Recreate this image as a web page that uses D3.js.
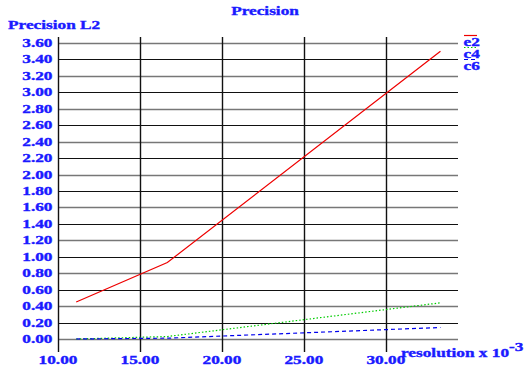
<!DOCTYPE html>
<html>
<head>
<meta charset="utf-8">
<script src="https://cdn.jsdelivr.net/npm/d3@7"></script>
<style>
  body { margin: 0; background: #fff; }
  text { font-family: "Liberation Serif", "Times New Roman", serif; font-weight: bold; fill: #1a1aff; stroke: #1a1aff; stroke-width: 0.35px; font-size: 12px; }
</style>
</head>
<body>
<div id="chart"></div>
<script>
// resolution (x 10^-3)
const resolution = [11.11, 16.67, 33.33];
const e2 = [0.45, 0.93, 3.50];
const c4 = [0.00, 0.03, 0.44];
const c6 = [0.00, 0.01, 0.14];
const xTicks = [10, 15, 20, 25, 30];
const yTicks = d3.range(0, 3.61, 0.2);
const seriesNames = ['e2', 'c4', 'c6'];
const seriesColors = ['#ee0000', '#00cc00', '#0000ee'];
const seriesDash = [null, '1.5,2', '4,3'];

const W = 525, H = 376;
const sx = 1.44; // text in the original is drawn wide
const svg = d3.select('#chart').append('svg')
  .attr('width', W).attr('height', H);

function label(px, py, txt, anchor) {
  return svg.append('text')
    .attr('transform', 'translate(' + px + ',' + py + ') scale(' + sx + ',1)')
    .attr('text-anchor', anchor || 'start')
    .text(txt);
}

const x = d3.scaleLinear().domain([10, 34.4]).range([58, 458]);
const y = d3.scaleLinear().domain([0, 3.6]).range([339, 43]);
const plotTop = 37, plotBottom = 352;

// horizontal grid, alternating dark / grey
svg.append('g').selectAll('line')
  .data(yTicks)
  .enter().append('line')
  .attr('x1', x(10)).attr('x2', x.range()[1])
  .attr('y1', d => Math.round(y(d)) + 0.5)
  .attr('y2', d => Math.round(y(d)) + 0.5)
  .attr('stroke', (d, i) => i % 2 == 0 ? '#777' : '#111')
  .attr('stroke-width', (d, i) => i % 2 == 0 ? 1.6 : 1.2);

// vertical grid
svg.append('g').selectAll('line')
  .data(xTicks)
  .enter().append('line')
  .attr('x1', d => Math.round(x(d)) + 0.5)
  .attr('x2', d => Math.round(x(d)) + 0.5)
  .attr('y1', plotTop).attr('y2', plotBottom)
  .attr('stroke', '#111')
  .attr('stroke-width', 1.4);

// tick labels
yTicks.forEach(d => label(52.5, y(d) + 4, d.toFixed(2), 'end'));
xTicks.forEach(d => label(x(d), 364, d.toFixed(2), 'middle'));

// titles
label(265, 15, 'Precision', 'middle');
label(8, 28.5, 'Precision L2');
const xl = label(401, 356.5, '');
xl.append('tspan').text('resolution x 10');
xl.append('tspan').attr('dy', -6).text('-3');

// series
const line = d3.line().x(d => x(d[0])).y(d => y(d[1]));
[e2, c4, c6].forEach((vals, i) => {
  svg.append('path')
    .datum(resolution.map((r, j) => [r, vals[j]]))
    .attr('d', line)
    .attr('fill', 'none')
    .attr('stroke', seriesColors[i])
    .attr('stroke-width', 1.2)
    .attr('stroke-dasharray', seriesDash[i]);
});

// legend
seriesNames.forEach((n, i) => {
  const ly = 35.5 + i * 12;
  svg.append('line')
    .attr('x1', 464).attr('x2', 477)
    .attr('y1', ly).attr('y2', ly)
    .attr('stroke', seriesColors[i])
    .attr('stroke-width', 1.2)
    .attr('stroke-dasharray', seriesDash[i]);
  label(463.5, ly + 10.5, n);
});
</script>
</body>
</html>
